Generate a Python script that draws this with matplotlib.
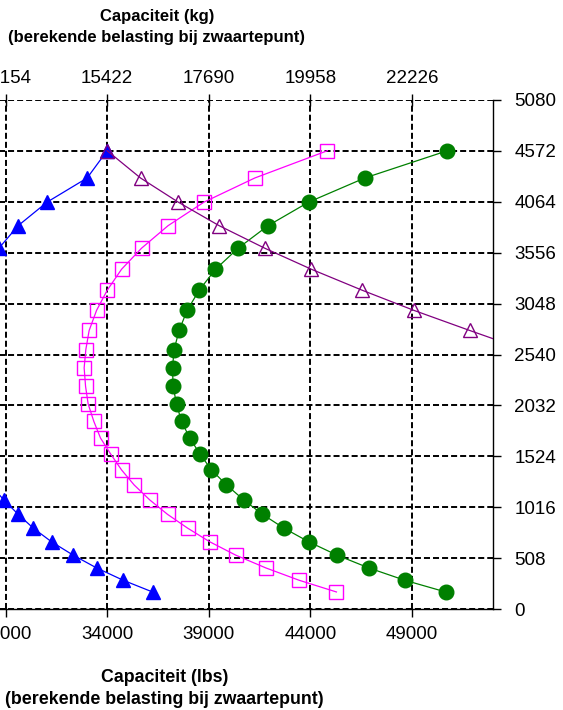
import matplotlib.pyplot as plt

plt.rcParams['font.family'] = ['Liberation Sans', 'DejaVu Sans']

# hoogte (mm) van elk meetpunt, voor alle curves hetzelfde
hoogte = [4572, 4300, 4060, 3825, 3600, 3390, 3180, 2980, 2780, 2590, 2407, 2223, 2047,
          1873, 1707, 1550, 1390, 1240, 1090, 947, 810, 673, 540, 413, 290, 173]

# capaciteit (lbs) per curve
cap_blauw = [34000, 33016, 31049, 29623, 28674, 27766, 27200, 26783, 26492, 26362, 26295,
             26350, 26453, 26677, 26940, 27334, 27766, 28262, 28920, 29623, 30361, 31266,
             32328, 33479, 34787, 36233]
cap_paars = [34000, 35643, 37492, 39508, 41756, 44052, 46561, 49098, 51838, 54500]
cap_roze = [44839, 41264, 38770, 37000, 35692, 34708, 34000, 33479, 33115, 32952, 32869,
            32938, 33066, 33346, 33675, 34167, 34708, 35328, 36100, 36970, 37954, 39051,
            40329, 41805, 43443, 45282]
cap_groen = [50741, 46674, 43920, 41918, 40443, 39331, 38525, 37934, 37541, 37295, 37216,
             37246, 37413, 37659, 38067, 38559, 39134, 39872, 40723, 41643, 42690, 43920,
             45311, 46870, 48641, 50657]

lbs_ticks = [24000, 29000, 34000, 39000, 44000, 49000]
kg_labels = ['10886', '13154', '15422', '17690', '19958', '22226']
hoogte_ticks = [0, 508, 1016, 1524, 2032, 2540, 3048, 3556, 4064, 4572, 5080]

fig = plt.figure(figsize=(5.63, 7.10), dpi=100)
# de grafiek is links afgesneden, dus de assen beginnen buiten beeld
ax = fig.add_axes([-0.3151, 0.1418, 1.1913, 0.7177])

grid_ls = (0, (3.1, 1.55))
ax.set_axisbelow(True)
ax.grid(True, color='black', linestyle=grid_ls, linewidth=1.4)

ax.plot(cap_blauw, hoogte, color='blue', lw=0.9, marker='^', ms=10,
        mfc='blue', mec='blue', zorder=3)
ax.plot(cap_paars, hoogte[:len(cap_paars)], color='purple', lw=0.9, marker='^', ms=10,
        mfc='none', mec='purple', mew=1.0, zorder=4)
ax.plot(cap_roze, hoogte, color='magenta', lw=0.9, marker='s', ms=10,
        mfc='none', mec='magenta', mew=1.0, zorder=3)
ax.plot(cap_groen, hoogte, color='green', lw=0.9, marker='o', ms=10.5,
        mfc='green', mec='green', zorder=3)

ax.set_xlim(20000, 53000)
ax.set_ylim(0, 5080)
ax.set_xticks(lbs_ticks)
ax.set_xticklabels([str(v) for v in lbs_ticks])
ax.set_yticks(hoogte_ticks)
ax.yaxis.tick_right()
ax.tick_params(axis='x', direction='out', length=6, width=1, labelsize=13.5, pad=6)
ax.tick_params(axis='y', direction='out', length=6, width=1, labelsize=13.5, pad=9,
               left=False, right=True)

for s in ['top', 'left']:
    ax.spines[s].set_visible(False)
for s in ['bottom', 'right']:
    ax.spines[s].set_linewidth(1.0)

# bovenste as in kg
ax2 = ax.twiny()
ax2.set_xlim(ax.get_xlim())
ax2.set_xticks(lbs_ticks)
ax2.set_xticklabels(kg_labels)
ax2.tick_params(axis='x', direction='inout', length=8, width=1, labelsize=13.5, pad=5)
for s in ax2.spines.values():
    s.set_visible(False)

fig.text(157 / 563, 1 - 16.7 / 710, 'Capaciteit (kg)', ha='center', va='center',
         fontsize=12, fontweight='bold')
fig.text(157 / 563, 1 - 37.5 / 710, '(berekende belasting bij zwaartepunt)', ha='center',
         va='center', fontsize=12, fontweight='bold')
fig.text(165 / 563, 1 - 677.5 / 710, 'Capaciteit (lbs)', ha='center', va='center',
         fontsize=12.8, fontweight='bold')
fig.text(164 / 563, 1 - 699 / 710, '(berekende belasting bij zwaartepunt)', ha='center',
         va='center', fontsize=12.8, fontweight='bold')

fig.savefig('out.png', dpi=100)
